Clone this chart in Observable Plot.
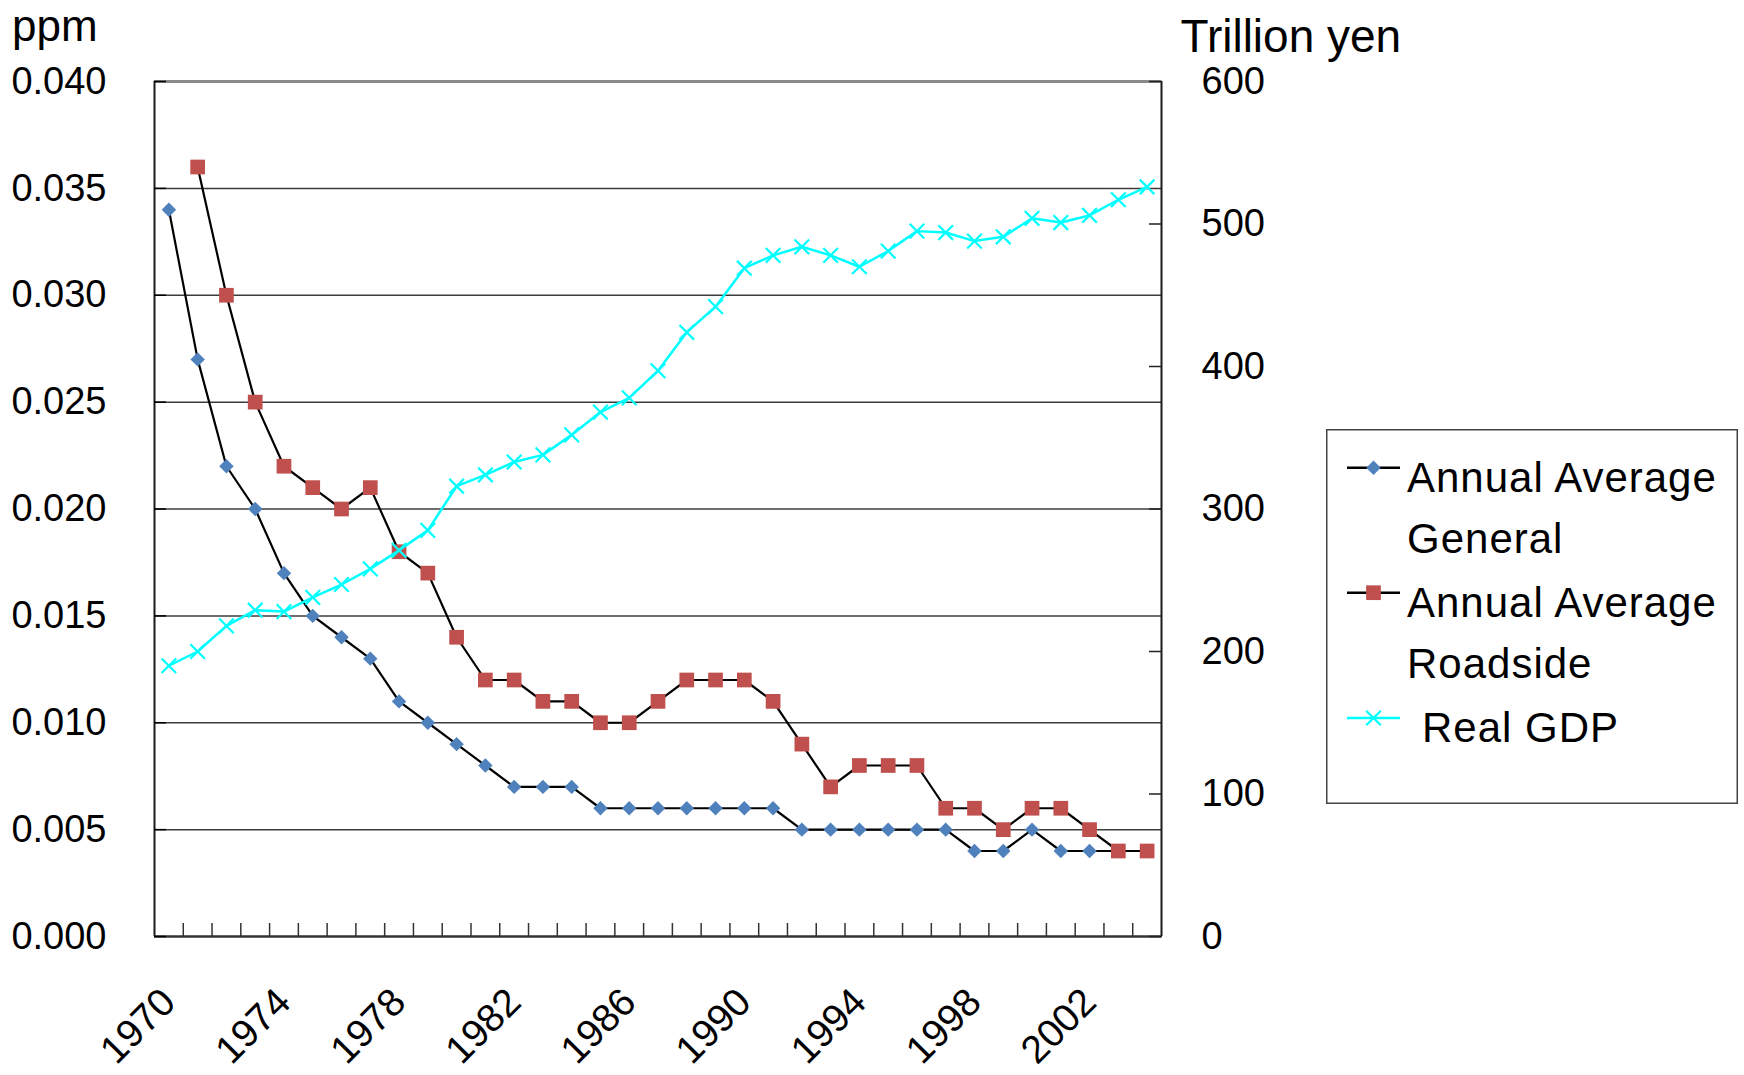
<!DOCTYPE html>
<html>
<head>
<meta charset="utf-8">
<script src="https://cdn.jsdelivr.net/npm/d3@7"></script>
<script src="https://cdn.jsdelivr.net/npm/@observablehq/plot@0.6"></script>
<style>
  html, body { margin: 0; padding: 0; background: #fff; }
  #chart { position: relative; width: 1744px; height: 1075px; background: #fff; }
</style>
</head>
<body>
<div id="chart"></div>
<script>
// ---- data ----
const years = [1970,1971,1972,1973,1974,1975,1976,1977,1978,1979,
               1980,1981,1982,1983,1984,1985,1986,1987,1988,1989,
               1990,1991,1992,1993,1994,1995,1996,1997,1998,1999,
               2000,2001,2002,2003,2004];
const generalPpm = [0.034,0.027,0.022,0.020,0.017,0.015,0.014,0.013,0.011,0.010,
                    0.009,0.008,0.007,0.007,0.007,0.006,0.006,0.006,0.006,0.006,
                    0.006,0.006,0.005,0.005,0.005,0.005,0.005,0.005,0.004,0.004,
                    0.005,0.004,0.004,0.004,0.004];
const roadsidePpm = [null,0.036,0.030,0.025,0.022,0.021,0.020,0.021,0.018,0.017,
                     0.014,0.012,0.012,0.011,0.011,0.010,0.010,0.011,0.012,0.012,
                     0.012,0.011,0.009,0.007,0.008,0.008,0.008,0.006,0.006,0.005,
                     0.006,0.006,0.005,0.004,0.004];
const realGdpTrillionYen = [190,200,218,229,228,238,247,258,271,285,
                            316,324,333,338,352,368,378,397,424,442,
                            469,478,484,478,470,481,495,494,488,491,
                            504,501,506,517,526];
const ppmTicks = [0, 0.005, 0.010, 0.015, 0.020, 0.025, 0.030, 0.035, 0.040];
const yenTicks = [0, 100, 200, 300, 400, 500, 600];
const xTickLabels = [1970, 1974, 1978, 1982, 1986, 1990, 1994, 1998, 2002];
const legendLabels = [["Annual Average", "General"], ["Annual Average", "Roadside"], ["Real GDP"]];
const leftTitle = "ppm";
const rightTitle = "Trillion yen";

// ---- derived helpers ----
const ppmMax = ppmTicks[ppmTicks.length - 1];
const yenMax = yenTicks[yenTicks.length - 1];
const yenToPpm = v => v * ppmMax / yenMax;
const rows = years.map((year, i) => ({
  year, general: generalPpm[i], roadside: roadsidePpm[i], gdp: realGdpTrillionYen[i]
}));
const roadsideRows = rows.filter(d => d.roadside != null);
const xDomain = [years[0] - 0.5, years[years.length - 1] + 0.5];
const categoryEdges = years.slice(0, -1).map(y => y + 0.5);

const FONT = '"Liberation Sans", Arial, Helvetica, sans-serif';
const BLUE = "#4F81BD", RED = "#C0504D", CYAN = "#00FFFF";

const plot = Plot.plot({
  width: 1744,
  height: 1075,
  marginLeft: 154,
  marginRight: 583,
  marginTop: 81,
  marginBottom: 139,
  style: { fontFamily: FONT, fontSize: "38px", color: "#000", background: "#fff", overflow: "visible" },
  x: { type: "linear", domain: xDomain },
  y: { domain: [0, ppmMax] },
  marks: [
    // gridlines
    Plot.ruleY(ppmTicks.slice(1, -1), { stroke: "#3c3c3c", strokeWidth: 1.5 }),
    Plot.ruleY([ppmMax], { stroke: "#8a8a8a", strokeWidth: 3 }),
    // frame: left, right and bottom
    Plot.ruleX(xDomain, { stroke: "#1a1a1a", strokeWidth: 2 }),
    Plot.ruleY([0], { stroke: "#333", strokeWidth: 2.5 }),
    // inward tick marks
    Plot.axisX(categoryEdges, { tickSize: -13, text: null, label: null, stroke: "#333", strokeWidth: 1.5 }),
    Plot.axisY(ppmTicks, { anchor: "left", tickSize: -12, text: null, label: null, stroke: "#000", strokeWidth: 1.5 }),
    Plot.axisY(yenTicks.map(yenToPpm), { anchor: "right", tickSize: -13, text: null, label: null, stroke: "#222", strokeWidth: 1.5 }),
    // tick labels
    Plot.axisY(ppmTicks, { anchor: "left", tickSize: 0, tickPadding: 48, label: null, tickFormat: d3.format(".3f") }),
    Plot.axisY(yenTicks.map(yenToPpm), { anchor: "right", tickSize: 0, tickPadding: 40, label: null,
      tickFormat: d => String(Math.round(d * yenMax / ppmMax)) }),
    Plot.axisX(xTickLabels, { tickSize: 0, tickPadding: 59, tickRotate: -45, label: null, fontSize: 39,
      tickFormat: d => String(d) }),
    // axis titles
    Plot.text([leftTitle], { text: d => d, frameAnchor: "top-left", textAnchor: "start", lineAnchor: "bottom",
      dx: -142.5, dy: -41, fontSize: 44, fill: "#000" }),
    Plot.text([rightTitle], { text: d => d, frameAnchor: "top-right", textAnchor: "start", lineAnchor: "bottom",
      dx: 19, dy: -29.5, fontSize: 46, fill: "#000" }),
    // series: General
    Plot.line(rows, { x: "year", y: "general", stroke: "#000", strokeWidth: 2.2 }),
    Plot.dot(rows, { x: "year", y: "general", symbol: "diamond2", r: 6.5, fill: BLUE, stroke: "none" }),
    // series: Roadside
    Plot.line(roadsideRows, { x: "year", y: "roadside", stroke: "#000", strokeWidth: 2.2 }),
    Plot.dot(roadsideRows, { x: "year", y: "roadside", symbol: "square", r: 8.3, fill: RED, stroke: "none" }),
    // series: Real GDP (secondary axis)
    Plot.line(rows, { x: "year", y: d => yenToPpm(d.gdp), stroke: CYAN, strokeWidth: 2.5 }),
    Plot.dot(rows, { x: "year", y: d => yenToPpm(d.gdp), symbol: "times", r: 6.7, stroke: CYAN, strokeWidth: 2.2 })
  ]
});

const chart = document.getElementById("chart");
chart.append(plot);

// ---- legend ----
const legendItems = [
  { lines: legendLabels[0], color: "#000", symbol: d3.symbolDiamond2, r: 6.5, fill: BLUE, stroke: "none", textX: 81 },
  { lines: legendLabels[1], color: "#000", symbol: d3.symbolSquare, r: 8.3, fill: RED, stroke: "none", textX: 81 },
  { lines: legendLabels[2], color: CYAN, symbol: d3.symbolTimes, r: 6.7, fill: "none", stroke: CYAN, textX: 96 }
];
const leg = d3.select(chart).append("svg")
  .attr("width", 412).attr("height", 375)
  .style("position", "absolute").style("left", "1326px").style("top", "429px")
  .style("font-family", FONT).style("font-size", "42px");
leg.append("rect").attr("x", 0.75).attr("y", 0.75).attr("width", 410.5).attr("height", 373.5)
  .attr("fill", "#fff").attr("stroke", "#444").attr("stroke-width", 1.5);
const rowTops = [38.7, 163.7, 289];
legendItems.forEach((it, i) => {
  const g = leg.append("g").attr("transform", `translate(0,${rowTops[i]})`);
  g.append("line").attr("x1", 21).attr("x2", 74).attr("y1", 0).attr("y2", 0)
    .attr("stroke", it.color).attr("stroke-width", 2.5);
  g.append("path").attr("transform", "translate(47.5,0)")
    .attr("d", d3.symbol().type(it.symbol).size(Math.PI * it.r * it.r)())
    .attr("fill", it.fill).attr("stroke", it.stroke).attr("stroke-width", 2.2);
  it.lines.forEach((t, j) => {
    g.append("text").attr("x", it.textX).attr("y", 24 + j * 61.6)
      .attr("letter-spacing", "1px").attr("fill", "#000").text(t);
  });
});
</script>
</body>
</html>
